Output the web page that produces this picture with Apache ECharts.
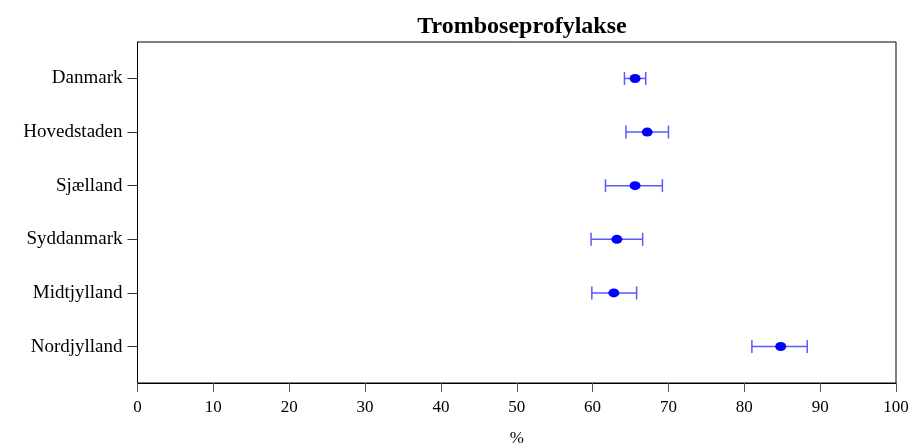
<!DOCTYPE html>
<html>
<head>
<meta charset="utf-8">
<script src="https://cdn.jsdelivr.net/npm/echarts@6/dist/echarts.min.js"></script>
<style>html,body{margin:0;padding:0;background:#fff;overflow:hidden}#c{width:911px;height:448px}</style>
</head>
<body>
<div id="c"></div>
<script>
var categories = ['Danmark', 'Hovedstaden', 'Sjælland', 'Syddanmark', 'Midtjylland', 'Nordjylland'];
var means = [65.6, 67.2, 65.6, 63.2, 62.8, 84.8];
var lowers = [64.2, 64.4, 61.7, 59.8, 59.9, 81.0];
var uppers = [67.0, 70.0, 69.2, 66.6, 65.8, 88.3];
var xTicks = [0, 10, 20, 30, 40, 50, 60, 70, 80, 90, 100];

var rowPos = categories.map(function (c, i) { return i + 1; });
var pointData = categories.map(function (c, i) { return [means[i], rowPos[i]]; });
var errData = categories.map(function (c, i) { return [lowers[i], uppers[i], rowPos[i]]; });

var chart = echarts.init(document.getElementById('c'));
var font = '"Liberation Serif", "Times New Roman", serif';
chart.setOption({
  animation: false,
  title: {
    text: 'Tromboseprofylakse',
    left: 517, top: 10, textAlign: 'center',
    textStyle: { fontFamily: font, fontSize: 24, fontWeight: 'bold', color: '#000' }
  },
  grid: { left: 137.5, right: 15, top: 42, bottom: 65, show: true, borderColor: '#000', borderWidth: 1,
    backgroundColor: 'transparent', containLabel: false, outerBoundsMode: 'none' },
  xAxis: {
    type: 'value', min: 0, max: 100, interval: 10,
    name: '%', nameLocation: 'middle', nameGap: 47,
    nameTextStyle: { fontFamily: font, fontSize: 17, color: '#000' },
    axisLine: { show: true, lineStyle: { color: '#000', width: 1 } },
    axisTick: { show: true, length: 9, lineStyle: { color: '#555' } },
    axisLabel: { fontFamily: font, fontSize: 17, color: '#000', margin: 16,
      customValues: xTicks },
    splitLine: { show: false }
  },
  yAxis: {
    type: 'value', inverse: true, min: 0.32, max: 6.68,
    axisLine: { show: true, lineStyle: { color: '#000', width: 1 } },
    axisTick: { show: true, length: 10, customValues: rowPos, lineStyle: { color: '#333' } },
    axisLabel: { fontFamily: font, fontSize: 19, color: '#000', margin: 15,
      customValues: rowPos,
      formatter: function (v) { return categories[Math.round(v) - 1] || ''; } },
    splitLine: { show: false }
  },
  series: [
    {
      type: 'custom',
      data: errData,
      renderItem: function (params, api) {
        var lo = api.coord([api.value(0), api.value(2)]);
        var hi = api.coord([api.value(1), api.value(2)]);
        var h = 6.5;
        var st = { stroke: '#5a5aff', lineWidth: 1.5 };
        return {
          type: 'group',
          children: [
            { type: 'line', shape: { x1: lo[0], y1: lo[1], x2: hi[0], y2: hi[1] }, style: st },
            { type: 'line', shape: { x1: lo[0], y1: lo[1] - h, x2: lo[0], y2: lo[1] + h }, style: st },
            { type: 'line', shape: { x1: hi[0], y1: hi[1] - h, x2: hi[0], y2: hi[1] + h }, style: st }
          ]
        };
      },
      z: 2
    },
    {
      type: 'scatter',
      data: pointData,
      symbol: 'circle',
      symbolSize: [11, 9],
      itemStyle: { color: '#0000ff', opacity: 1 },
      z: 3
    }
  ]
});
</script>
</body>
</html>
